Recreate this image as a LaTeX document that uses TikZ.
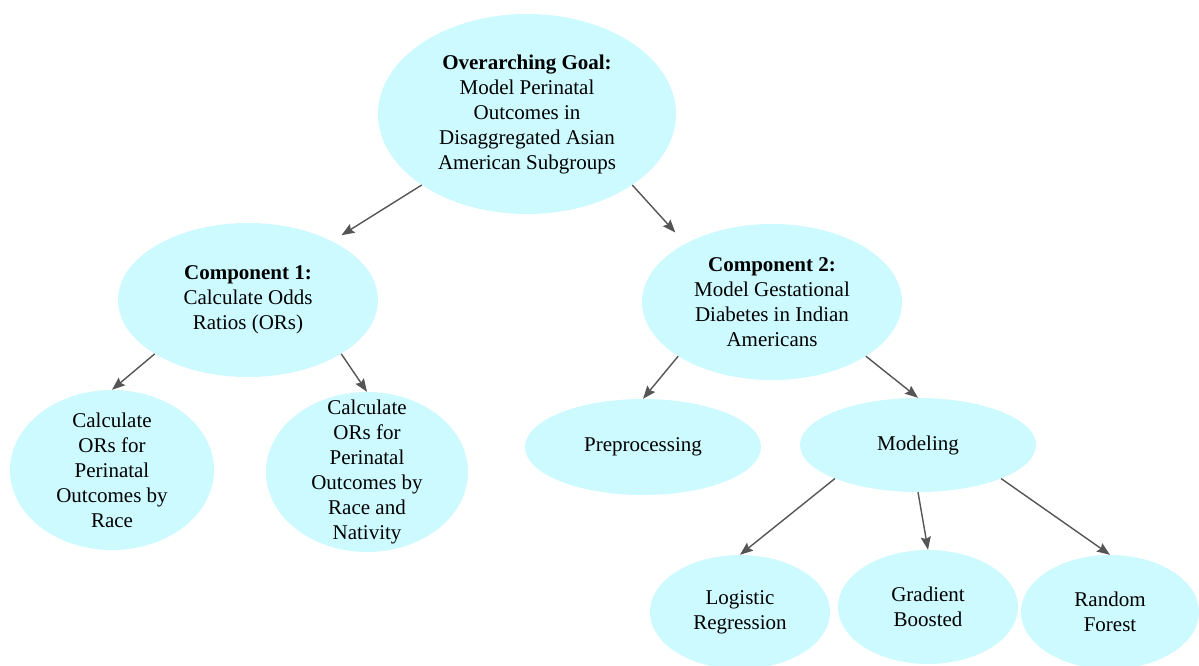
\documentclass[tikz,border=0pt]{standalone}
\usepackage{fontspec}
\setmainfont{Liberation Serif}
\usetikzlibrary{shapes.geometric,arrows.meta}
\definecolor{bubblefill}{RGB}{204,250,255}
\definecolor{linkgray}{RGB}{85,85,85}

\begin{document}
\begin{tikzpicture}[x=1pt,y=-1pt,->,>={Stealth[length=13pt,width=10pt,inset=2pt]},
	bubble/.style={ellipse,fill=bubblefill,inner sep=0pt},
	btext/.style={align=center,inner sep=0pt,font=\fontsize{21}{25}\selectfont},
	link/.style={draw=linkgray,line width=1.4pt}]
\useasboundingbox (0,0) rectangle (1199,665);

% goal
\node[bubble,minimum width=298pt,minimum height=200pt,
	label={[btext]center:{\textbf{Overarching Goal:}\\Model Perinatal\\Outcomes in\\Disaggregated Asian\\American Subgroups}}] (goal) at (527,114) {};

% components
\node[bubble,minimum width=260pt,minimum height=154pt,
	label={[btext]center:{\textbf{Component 1:}\\Calculate Odds\\Ratios (ORs)}}] (c1) at (248,300) {};
\node[bubble,minimum width=260pt,minimum height=156pt,
	label={[btext]center:{\textbf{Component 2:}\\Model Gestational\\Diabetes in Indian\\Americans}}] (c2) at (772,302) {};

% component 1 tasks
\node[bubble,minimum width=204pt,minimum height=160pt,
	label={[btext]center:{Calculate\\ORs for\\Perinatal\\Outcomes by\\Race}}] (race) at (112,470) {};
\node[bubble,minimum width=202pt,minimum height=160pt,
	label={[btext]center:{Calculate\\ORs for\\Perinatal\\Outcomes by\\Race and\\Nativity}}] (nat) at (367,472) {};

% component 2 tasks
\node[bubble,minimum width=236pt,minimum height=96pt,
	label={[btext]center:{Preprocessing}}] (pre) at (643,447) {};
\node[bubble,minimum width=236pt,minimum height=94pt,
	label={[btext]center:{Modeling}}] (mod) at (918,445) {};

% models
\node[bubble,minimum width=180pt,minimum height=114pt,
	label={[btext]center:{Logistic\\Regression}}] (log) at (740,612) {};
\node[bubble,minimum width=180pt,minimum height=114pt,
	label={[btext]center:{Gradient\\Boosted}}] (grad) at (928,607) {};
\node[bubble,minimum width=178pt,minimum height=114pt,
	label={[btext]center:{Random\\Forest}}] (rand) at (1110,612) {};

% arrows
\draw[link,shorten >=11pt] (goal.214) -- (c1.35);
\draw[link,shorten >=15pt] (goal.326) -- (c2.146);
\draw[link] (c1.210) -- (race.north);
\draw[link] (c1.330) -- (nat.north);
\draw[link] (c2.210) -- (pre.north);
\draw[link] (c2.330) -- (mod.north);
\draw[link] (mod.202) -- (log.north);
\draw[link] (mod.south) -- (grad.north);
\draw[link] (mod.338) -- (rand.north);
\end{tikzpicture}
\end{document}
